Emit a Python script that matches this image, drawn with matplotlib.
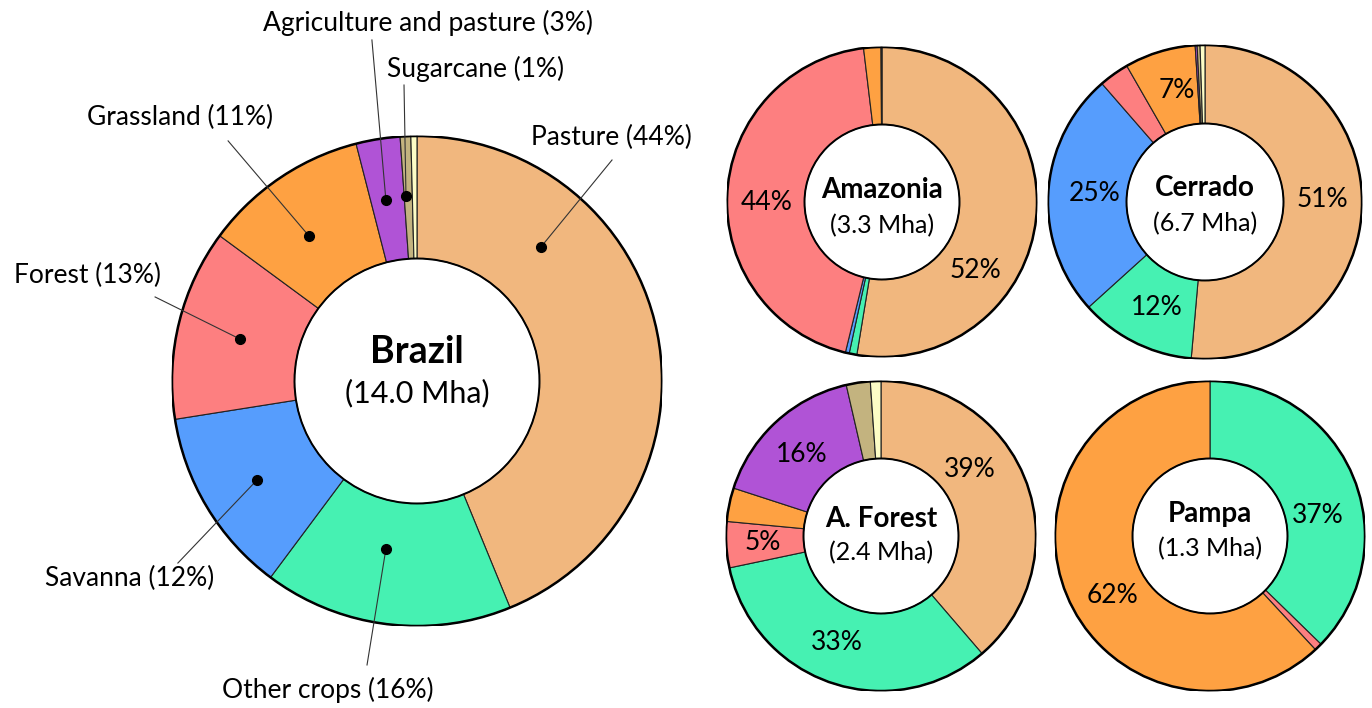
import matplotlib
matplotlib.use("Agg")
import matplotlib.pyplot as plt
from matplotlib.patches import Circle

plt.rcParams['font.family'] = ['Lato', 'DejaVu Sans']

# land use categories (clockwise from top)
categories = ["Pasture", "Other crops", "Savanna", "Forest", "Grassland",
              "Agriculture and pasture", "Sugarcane", "Other"]
colors = ["#F1B77E", "#46F1B2", "#569DFD", "#FD7F80", "#FEA142",
          "#B053D6", "#C3B37F", "#FDFDC6"]

# share of area (%) per region
brazil = [43.8, 16.4, 12.3, 12.6, 10.9, 2.9, 0.7, 0.4]
amazonia = [52.6, 0.8, 0.4, 44.3, 1.8, 0.1, 0.0, 0.0]
cerrado = [51.4, 11.9, 25.3, 3.1, 7.3, 0.2, 0.3, 0.5]
aforest = [38.7, 33.0, 0.0, 4.8, 3.5, 16.4, 2.5, 1.1]
pampa = [0.0, 37.3, 0.0, 0.8, 61.9, 0.0, 0.0, 0.0]

brazil_labels = ["Pasture (44%)", "Other crops (16%)", "Savanna (12%)", "Forest (13%)",
                 "Grassland (11%)", "Agriculture and pasture (3%)", "Sugarcane (1%)"]

W, H = 1372, 708
fig = plt.figure(figsize=(W / 100, H / 100), dpi=100)


def donut_axes(cx, cy, r):
    # axes placed by pixel centre / radius
    ax = fig.add_axes([(cx - r) / W, (H - cy - r) / H, 2 * r / W, 2 * r / H])
    ax.set_xlim(-1, 1)
    ax.set_ylim(-1, 1)
    ax.set_aspect("equal")
    ax.axis("off")
    return ax


def draw_donut(ax, values):
    vals = [v for v in values if v > 0]
    cols = [c for v, c in zip(values, colors) if v > 0]
    ax.pie(vals, colors=cols, startangle=90, counterclock=False, radius=1,
           wedgeprops=dict(width=0.5, edgecolor="#222222", linewidth=0.8))
    ax.add_patch(Circle((0, 0), 1, fill=False, edgecolor="black", linewidth=1.8, zorder=5))
    ax.add_patch(Circle((0, 0), 0.5, fill=False, edgecolor="black", linewidth=1.4, zorder=5))
    ax.set_xlim(-1, 1)
    ax.set_ylim(-1, 1)


# Brazil (big donut)
ax = donut_axes(417, 381, 245)
draw_donut(ax, brazil)
ax.text(0, 0.12, "Brazil", ha="center", va="center", fontsize=27, fontweight="bold")
ax.text(0, -0.05, "(14.0 Mha)", ha="center", va="center", fontsize=22)

dots = [(0.506, 0.547), (-0.127, -0.686), (-0.653, -0.404), (-0.722, 0.171),
        (-0.441, 0.592), (-0.127, 0.739), (-0.045, 0.755)]
line_ends = [(0.796, 0.902), (-0.204, -1.159), (-0.976, -0.743), (-1.069, 0.343),
             (-0.771, 0.980), (-0.184, 1.392), (-0.053, 1.208)]
text_pos = [(0.792, 0.995), (-0.363, -1.261), (-1.171, -0.804), (-1.343, 0.429),
            (-0.967, 1.076), (0.045, 1.46), (0.241, 1.272)]
for lab, d, e, t in zip(brazil_labels, dots, line_ends, text_pos):
    ax.plot([d[0], e[0]], [d[1], e[1]], color="#333333", linewidth=0.8, clip_on=False, zorder=6)
    ax.plot(d[0], d[1], "o", color="black", markersize=7, clip_on=False, zorder=7)
    ax.text(t[0], t[1], lab, ha="center", va="center", fontsize=19, clip_on=False)

# regional donuts
regions = [
    ("Amazonia", "(3.3 Mha)", amazonia, (882, 202, 155), (0.08, -0.15),
     [("44%", -0.742, 0.0), ("52%", 0.6, -0.439)]),
    ("Cerrado", "(6.7 Mha)", cerrado, (1205, 202, 157), (0.09, -0.14),
     [("7%", -0.178, 0.713), ("25%", -0.70, 0.057), ("51%", 0.745, 0.013), ("12%", -0.306, -0.669)]),
    ("A. Forest", "(2.4 Mha)", aforest, (881, 536, 155), (0.11, -0.11),
     [("16%", -0.51, 0.523), ("39%", 0.574, 0.426), ("5%", -0.761, -0.045), ("33%", -0.284, -0.684)]),
    ("Pampa", "(1.3 Mha)", pampa, (1210, 536, 155), (0.14, -0.08),
     [("37%", 0.697, 0.135), ("62%", -0.632, -0.381)]),
]

for name, area, vals, (cx, cy, r), (ty1, ty2), pct in regions:
    ax = donut_axes(cx, cy, r)
    draw_donut(ax, vals)
    ax.text(0, ty1, name, ha="center", va="center", fontsize=20, fontweight="bold")
    ax.text(0, ty2, area, ha="center", va="center", fontsize=18)
    for s, x, y in pct:
        ax.text(x, y, s, ha="center", va="center", fontsize=19)

fig.savefig("out.png", dpi=100)
